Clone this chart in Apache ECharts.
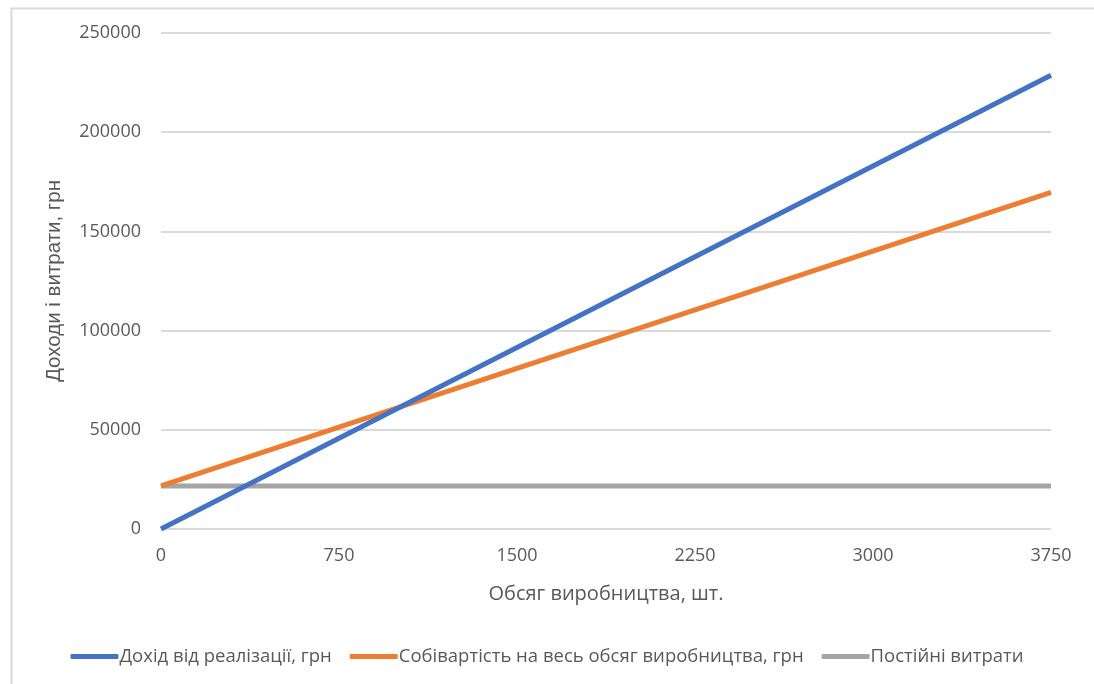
<!DOCTYPE html>
<html>
<head>
<meta charset="utf-8">
<script src="https://cdn.jsdelivr.net/npm/echarts@6/dist/echarts.min.js"></script>
<style>
html,body{margin:0;padding:0;background:#fff;}
#c{width:1094px;height:684px;}
</style>
</head>
<body>
<div id="c"></div>
<script>
const xValues = [0, 750, 1500, 2250, 3000, 3750];
const revenue = [0, 45750, 91500, 137250, 183000, 228750];
const totalCost = [21700, 51300, 80900, 110500, 140100, 169700];
const fixedCost = [21700, 21700, 21700, 21700, 21700, 21700];
const seriesNames = ['Дохід від реалізації, грн', 'Собівартість на весь обсяг виробництва, грн', 'Постійні витрати'];
const xTitle = 'Обсяг виробництва, шт.';
const yTitle = 'Доходи і витрати, грн';

const pair = arr => xValues.map((x, i) => [x, arr[i]]);
const colors = ['#4472C4', '#ED7D31', '#A5A5A5'];
const datasets = [revenue, totalCost, fixedCost];

const chart = echarts.init(document.getElementById('c'));
chart.setOption({
  animation: false,
  color: colors,
  graphic: [{
    type: 'rect', left: 9, top: 6,
    shape: {width: 1200, height: 800},
    style: {fill: 'none', stroke: '#d9d9d9', lineWidth: 2},
    silent: true
  }],
  grid: {left: 161, right: 43, top: 33, bottom: 155},
  legend: {
    bottom: 13, left: 'center',
    itemWidth: 48, itemHeight: 5, itemGap: 18,
    icon: 'roundRect',
    textStyle: {fontFamily: 'Open Sans', fontSize: 18.5, color: '#595959', padding: [0, 0, 0, -4]},
    data: seriesNames
  },
  xAxis: {
    type: 'value', min: 0, max: 3750, interval: 750,
    name: xTitle, nameLocation: 'middle', nameGap: 55,
    nameTextStyle: {fontFamily: 'Open Sans', fontSize: 20, color: '#595959'},
    axisLine: {show: false},
    axisTick: {show: false},
    splitLine: {show: false},
    axisLabel: {fontFamily: 'Open Sans', fontSize: 18, color: '#595959', margin: 18, formatter: v => String(v)}
  },
  yAxis: {
    type: 'value', min: 0, max: 250000, interval: 50000,
    name: yTitle, nameLocation: 'middle', nameGap: 96, nameRotate: 90,
    nameTextStyle: {fontFamily: 'Liberation Sans', fontSize: 20.5, color: '#595959'},
    axisLine: {show: false},
    axisTick: {show: false},
    splitLine: {lineStyle: {color: '#d9d9d9', width: 2}},
    axisLabel: {fontFamily: 'Open Sans', fontSize: 18, color: '#595959', margin: 20, formatter: v => String(v)}
  },
  series: seriesNames.map((n, i) => ({
    name: n, type: 'line', data: pair(datasets[i]),
    showSymbol: false, symbol: 'none',
    lineStyle: {width: 5, color: colors[i]},
    z: 3 - i
  }))
});
</script>
</body>
</html>
